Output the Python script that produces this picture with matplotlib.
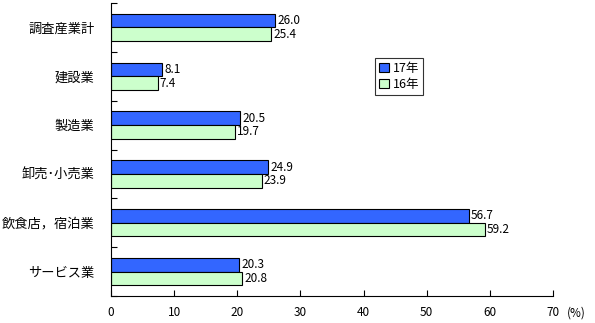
import matplotlib
matplotlib.use("Agg")
import matplotlib.pyplot as plt
import numpy as np

plt.rcParams["font.family"] = ["Noto Sans CJK JP", "DejaVu Sans"]

categories = ["調査産業計", "建設業", "製造業", "卸売･小売業", "飲食店，宿泊業", "サービス業"]
values_17 = [26.0, 8.1, 20.5, 24.9, 56.7, 20.3]
values_16 = [25.4, 7.4, 19.7, 23.9, 59.2, 20.8]
series_labels = ["17年", "16年"]
x_ticks = [0, 10, 20, 30, 40, 50, 60, 70]

fig = plt.figure(figsize=(5.95, 3.23), dpi=100)
ax = fig.add_axes([111 / 595, 27 / 323, 442 / 595, 293 / 323])

y = np.arange(len(categories))
h = 0.28
b1 = ax.barh(y - h / 2, values_17, height=h, color="#3366FF", edgecolor="black",
             linewidth=0.8, label=series_labels[0])
b2 = ax.barh(y + h / 2, values_16, height=h, color="#CCFFCC", edgecolor="black",
             linewidth=0.8, label=series_labels[1])

for bars, vals in ((b1, values_17), (b2, values_16)):
    for bar, v in zip(bars, vals):
        ax.text(v + 0.3, bar.get_y() + bar.get_height() / 2, f"{v:.1f}",
                va="center", ha="left", fontsize=8.5)

ax.set_xlim(0, 70)
ax.set_ylim(len(categories) - 0.5, -0.5)
ax.set_xticks(x_ticks)
ax.set_xticklabels([str(t) for t in x_ticks], fontsize=8.5)
ax.set_yticks(np.arange(-0.5, len(categories), 1.0))
ax.set_yticklabels([])
ax.set_yticks(y, minor=True)
ax.set_yticklabels(categories, minor=True, fontsize=9.5)
ax.tick_params(axis="y", which="minor", length=0, pad=12)
ax.tick_params(axis="y", which="major", direction="in", length=4, width=0.8)
ax.tick_params(axis="x", direction="in", length=4, width=0.8, pad=7)

for s in ("top", "right"):
    ax.spines[s].set_visible(False)
for s in ("left", "bottom"):
    ax.spines[s].set_linewidth(0.8)

fig.text(576 / 595, 1 - 313 / 323, "(%)", fontsize=8.5, ha="center", va="center")

leg = ax.legend(loc="upper left", bbox_to_anchor=((375 - 111) / 442, (296 - 58) / 293),
                fontsize=9, frameon=True, fancybox=False, edgecolor="black",
                handlelength=0.8, handleheight=0.8, handletextpad=0.3,
                borderpad=0.3, labelspacing=0.25, borderaxespad=0)
leg.get_frame().set_linewidth(0.8)

fig.savefig("out.png", dpi=100)
